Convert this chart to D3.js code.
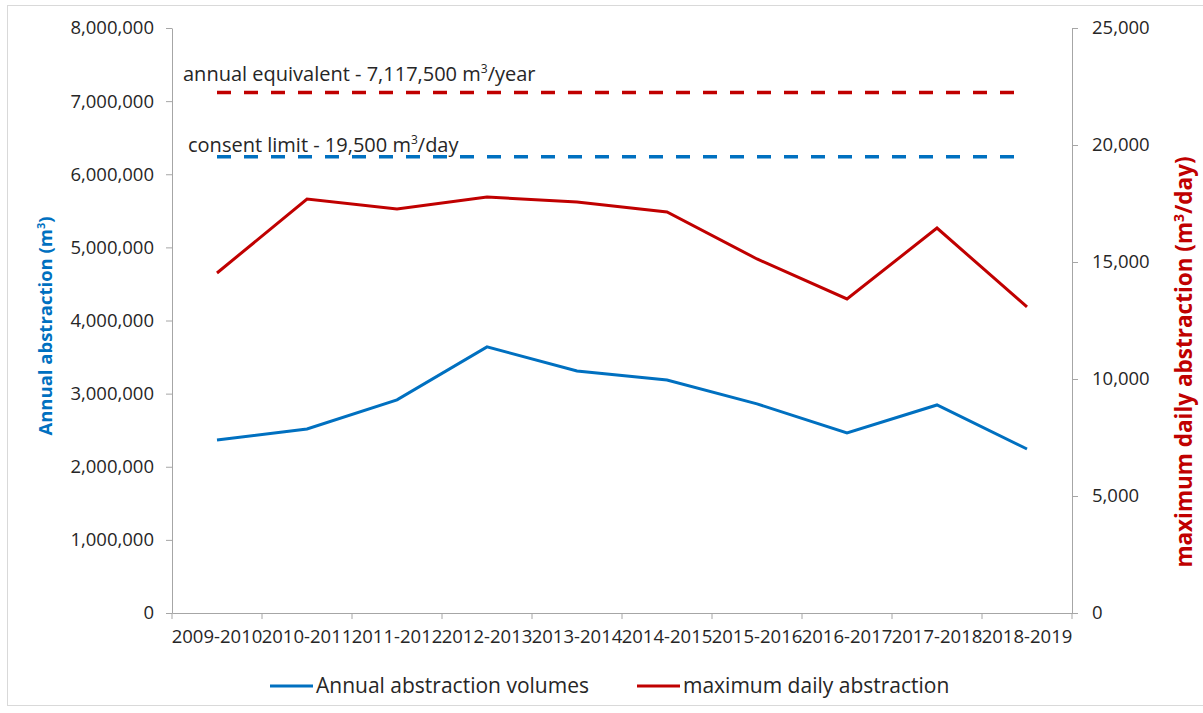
<!DOCTYPE html>
<html>
<head>
<meta charset="utf-8">
<script src="https://cdn.jsdelivr.net/npm/d3@7"></script>
<style>
  body { margin: 0; background: #fff; }
  svg text { font-family: "Open Sans", sans-serif; fill: #262626; }
  .axis path, .axis line { stroke: #a6a6a6; }
</style>
</head>
<body>
<div id="chart"></div>
<script>
// chart values
var years = ['2009-2010', '2010-2011', '2011-2012', '2012-2013', '2013-2014',
             '2014-2015', '2015-2016', '2016-2017', '2017-2018', '2018-2019'];
var annualVolumes = [2366000, 2517000, 2914000, 3639000, 3310000,
                     3187000, 2860000, 2462000, 2845000, 2243000];
var maxDaily = [14530, 17690, 17265, 17780, 17560,
                17140, 15130, 13420, 16450, 13080];
var annualEquivalent = 7117500;
var consentLimit = 19500;
var leftTicks = [0, 1000000, 2000000, 3000000, 4000000, 5000000, 6000000, 7000000, 8000000];
var rightTicks = [0, 5000, 10000, 15000, 20000, 25000];

var WIDTH = 1203, HEIGHT = 713;
var margin = {top: 28, right: 131, bottom: 100, left: 172},
    width = WIDTH - margin.left - margin.right,   // 900
    height = HEIGHT - margin.top - margin.bottom; // 585

var BLUE = '#0070c0', RED = '#c00000';

var svg = d3.select('#chart').append('svg')
            .attr('width', WIDTH)
            .attr('height', HEIGHT);

// light frame round the whole chart
svg.append('rect')
   .attr('x', 7.5).attr('y', 5.5)
   .attr('width', WIDTH).attr('height', 700)
   .attr('fill', 'none')
   .attr('stroke', '#d9d9d9');

var g = svg.append('g')
           .attr('transform', `translate(${margin.left},${margin.top})`);

var x = d3.scaleBand().domain(years).range([0, width]);
var yL = d3.scaleLinear().domain([0, 8000000]).range([height, 0]);
var yR = d3.scaleLinear().domain([0, 25000]).range([height, 0]);
var cx = d => x(d) + x.bandwidth() / 2;

// axes
var xAxis = g.append('g')
   .attr('class', 'axis')
   .attr('transform', `translate(0,${height})`)
   .call(d3.axisBottom(x).tickSize(0).tickPadding(17));
xAxis.selectAll('text').style('font-size', '18.5px');
// tick marks sit on the category boundaries
xAxis.selectAll('.bound')
   .data(d3.range(years.length + 1))
   .enter().append('line')
   .attr('class', 'bound')
   .attr('x1', i => i * x.step()).attr('x2', i => i * x.step())
   .attr('y1', 0).attr('y2', 6)
   .attr('stroke', '#a6a6a6');

var leftAxis = g.append('g')
   .attr('class', 'axis')
   .call(d3.axisLeft(yL).tickValues(leftTicks).tickFormat(d3.format(','))
           .tickSizeInner(6).tickSizeOuter(0).tickPadding(12));
leftAxis.selectAll('text').style('font-size', '18.5px');

var rightAxis = g.append('g')
   .attr('class', 'axis')
   .attr('transform', `translate(${width},0)`)
   .call(d3.axisRight(yR).tickValues(rightTicks).tickFormat(d3.format(','))
           .tickSizeInner(6).tickSizeOuter(0).tickPadding(14));
rightAxis.selectAll('text').style('font-size', '18.5px');

// axis titles
var leftTitle = svg.append('text')
   .attr('transform', `translate(52,326) rotate(-90)`)
   .attr('text-anchor', 'middle')
   .style('font-size', '18.5px').style('font-weight', 'bold')
   .style('fill', BLUE);
leftTitle.append('tspan').text('Annual abstraction (m');
leftTitle.append('tspan').text('3').attr('dy', -7).style('font-size', '11px');
leftTitle.append('tspan').text(')').attr('dy', 7);

var rightTitle = svg.append('text')
   .attr('transform', `translate(1192,362) rotate(-90)`)
   .attr('text-anchor', 'middle')
   .style('font-size', '22.5px').style('font-weight', 'bold')
   .style('fill', RED);
rightTitle.append('tspan').text('maximum daily abstraction (m');
rightTitle.append('tspan').text('3').attr('dy', -8).style('font-size', '14px');
rightTitle.append('tspan').text('/day)').attr('dy', 8);

// reference lines
g.append('line')
   .attr('x1', cx(years[0])).attr('x2', cx(years[years.length - 1]))
   .attr('y1', yL(annualEquivalent)).attr('y2', yL(annualEquivalent))
   .attr('stroke', RED).attr('stroke-width', 3.5)
   .attr('stroke-dasharray', '14,13');

g.append('line')
   .attr('x1', cx(years[0])).attr('x2', cx(years[years.length - 1]))
   .attr('y1', yR(consentLimit)).attr('y2', yR(consentLimit))
   .attr('stroke', BLUE).attr('stroke-width', 3.5)
   .attr('stroke-dasharray', '14,13');

function refLabel(txt, after, yPos, xPos) {
  var t = g.append('text')
     .attr('x', xPos).attr('y', yPos)
     .style('font-size', '20px');
  t.append('tspan').text(txt);
  t.append('tspan').text('3').attr('dy', -8).style('font-size', '12px');
  t.append('tspan').text(after).attr('dy', 8);
}
refLabel('annual equivalent - 7,117,500 m', '/year', yL(annualEquivalent) - 12, 11);
refLabel('consent limit - 19,500 m', '/day', yR(consentLimit) - 5, 16);

// data lines
var lineL = d3.line().x((d, i) => cx(years[i])).y(d => yL(d));
var lineR = d3.line().x((d, i) => cx(years[i])).y(d => yR(d));

g.append('path')
   .datum(annualVolumes)
   .attr('d', lineL)
   .attr('fill', 'none')
   .attr('stroke', BLUE)
   .attr('stroke-width', 3);

g.append('path')
   .datum(maxDaily)
   .attr('d', lineR)
   .attr('fill', 'none')
   .attr('stroke', RED)
   .attr('stroke-width', 3);

// legend
var legendItems = [
  {name: 'Annual abstraction volumes', color: BLUE, x: 270},
  {name: 'maximum daily abstraction', color: RED, x: 637}
];
var legend = svg.selectAll('.legend')
   .data(legendItems)
   .enter().append('g')
   .attr('class', 'legend')
   .attr('transform', d => `translate(${d.x},686)`);
legend.append('line')
   .attr('x1', 0).attr('x2', 43)
   .attr('stroke', d => d.color).attr('stroke-width', 3);
legend.append('text')
   .attr('x', 46).attr('dy', '0.35em')
   .style('font-size', '21px')
   .text(d => d.name);
</script>
</body>
</html>
